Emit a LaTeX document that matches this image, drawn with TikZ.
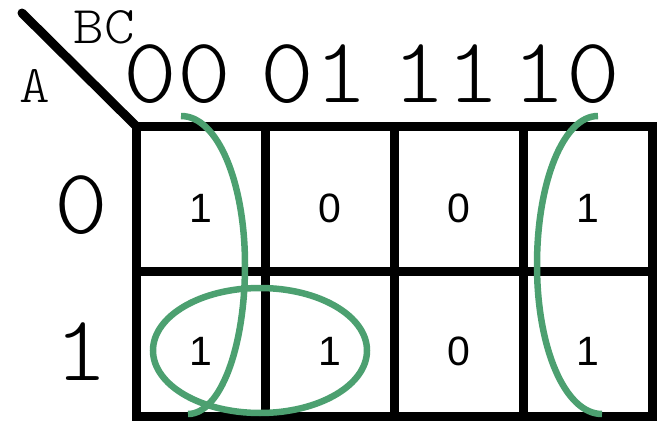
\documentclass[tikz,border=0pt]{standalone}
\usepackage{fontspec}
\newfontfamily\kmono{lmmonolt10-regular.otf}[FakeStretch=1.1]
\newfontfamily\ksans{Liberation Sans}
\usetikzlibrary{positioning}
\definecolor{loopgreen}{RGB}{76,160,112}

\begin{document}
\begin{tikzpicture}[x=1pt, y=-1pt,
    grid/.style={line width=9pt},
    head/.style={font=\kmono\fontsize{93}{93}\selectfont, inner sep=0pt, anchor=base},
    var/.style={font=\kmono\fontsize{53}{53}\selectfont, inner sep=0pt, anchor=base},
    val/.style={font=\ksans\fontsize{41}{41}\selectfont, inner sep=0pt, anchor=base},
    kloop/.style={draw=loopgreen, line width=6.5pt}]
    \useasboundingbox (0,0) rectangle (657,423);

    % Grid
    \coordinate (corner) at (136,126);
    \coordinate (far) at (652,416);
    \coordinate (tip) at (22,13);
    \draw[grid] (corner) rectangle (far);
    \foreach \x in {265,394,523}
        \draw[grid] (\x,126) -- (\x,416);
    \draw[grid] (136,271) -- (652,271);
    \draw[grid, line cap=round] (tip) -- (corner);

    % Variable names
    \node[var] (bc) at (104,43) {BC};
    \node[var] (a) at (35,102) {A};

    % Gray code labels
    \foreach \x/\lab in {177.5/00, 314.5/01, 446/11, 566.5/10}
        \node[head] (h\lab) at (\x,102) {\lab};
    \node[head] (r0) at (81,233) {0};
    \node[head] (r1) at (81,380) {1};

    % Cell values
    \foreach \c/\r/\v in {0/0/1, 1/0/0, 2/0/0, 3/0/1, 0/1/1, 1/1/1, 2/1/0, 3/1/1}
        \node[val] (v\c\r) at ({200.5+129*\c},{222+143*\r}) {\v};

    % Groups
    \draw[kloop] (181,116) .. controls (218,116) and (245,183) .. (245,265)
        .. controls (245,348) and (220,414) .. (188,414);
    \draw[kloop] (260,350.5) ellipse [x radius=107, y radius=62.5];
    \draw[kloop] (598,116) .. controls (563,116) and (537,183) .. (537,265)
        .. controls (537,348) and (565,414) .. (602,414);
\end{tikzpicture}
\end{document}
